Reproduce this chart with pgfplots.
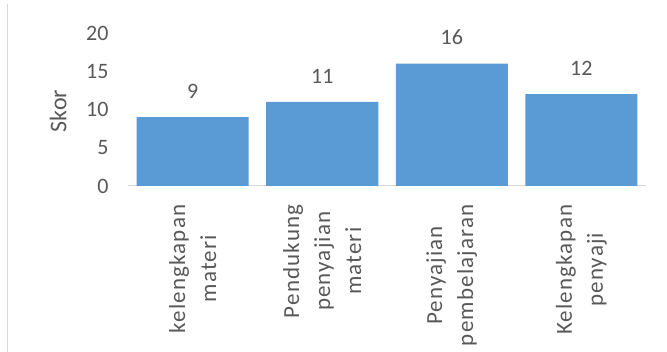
\documentclass[border=0pt]{standalone}
\usepackage{fontspec}
\setmainfont{Carlito}
\usepackage{pgfplots}
\pgfplotsset{compat=1.18}
\definecolor{barblue}{HTML}{5B9BD5}
\definecolor{txt}{HTML}{595959}
\definecolor{axgray}{HTML}{D9D9D9}
\begin{document}
\begin{tikzpicture}[x=1pt,y=1pt]
\path[use as bounding box] (-128,-166) rectangle (539,186);
\draw[axgray, line width=1.5pt] (-120.5,182) -- (-120.5,-166);
\begin{axis}[
  at={(0,0)}, anchor=south west,
  scale only axis, width=518pt, height=153pt,
  /pgf/number format/assume math mode=true,
  ymin=0, ymax=20, xmin=-0.5, xmax=3.5,
  ytick={0,5,10,15,20},
  xtick={0,1,2,3},
  xticklabels={{kelengkapan\\materi},{Pendukung\\penyajian\\materi},{Penyajian\\pembelajaran},{Kelengkapan\\penyaji}},
  axis x line*=bottom,
  axis y line*=left,
  y axis line style={draw=none},
  x axis line style={axgray, line width=1pt, -},
  major tick length=0pt,
  tick style={draw=none},
  ybar, bar width=112pt,
  ticklabel style={font=\fontsize{22}{26}\selectfont, text=txt},
  yticklabel style={xshift=-16pt},
  xticklabel style={rotate=90, anchor=east, align=center, xshift=-15pt,
     font=\fontsize{23}{31}\selectfont\addfontfeatures{LetterSpace=5}},
  ylabel={Skor},
  ylabel style={at={(axis description cs:-0.135,0.49)}, anchor=center,
     font=\fontsize{24}{26}\selectfont, text=txt},
  nodes near coords,
  nodes near coords style={font=\fontsize{22}{26}\selectfont, text=txt, yshift=15pt},
]
\addplot[fill=barblue, draw=none] coordinates {(0,9) (1,11) (2,16) (3,12)};
\end{axis}
\end{tikzpicture}
\end{document}
